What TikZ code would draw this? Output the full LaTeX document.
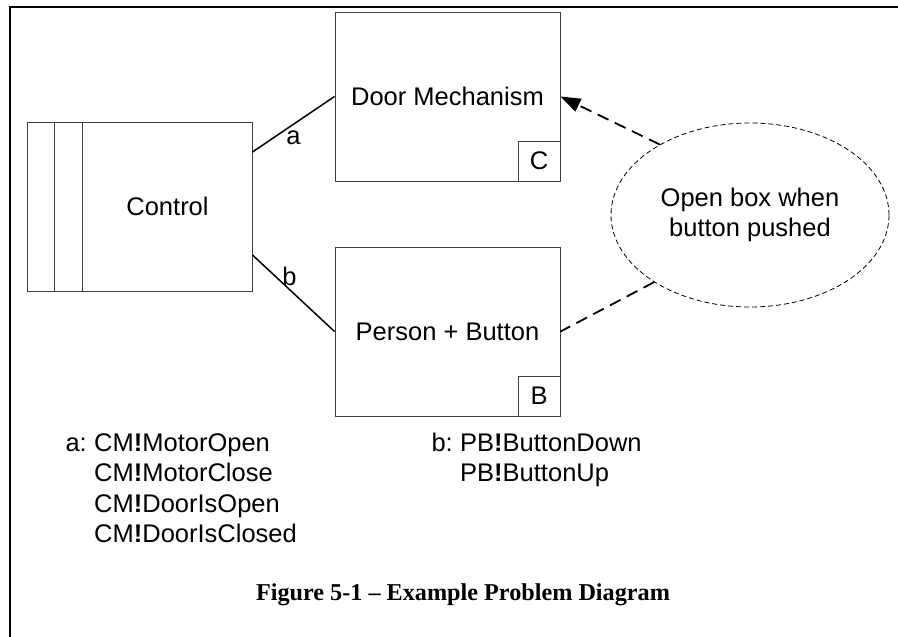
\documentclass[tikz,border=0pt]{standalone}
\usepackage{fontspec}
\setmainfont{Liberation Sans}
\newfontfamily\capfont{Liberation Serif}
\usetikzlibrary{shapes.geometric,arrows.meta}

\begin{document}
\begin{tikzpicture}[x=1pt, y=-1pt,
    font=\fontsize{25.5}{30.5}\selectfont,
    box/.style = {draw=black!75, line width=1pt, minimum width=225pt, minimum height=169pt, inner sep=0pt},
    tag/.style = {draw=black!75, line width=1pt, minimum width=42pt, minimum height=40pt, inner sep=0pt},
    link/.style = {line width=1.5pt},
    note/.style = {draw, ellipse, dash pattern=on 5pt off 3pt, line width=0.8pt, minimum width=278pt, minimum height=184pt, inner sep=0pt, align=center},
    cause/.style = {dash pattern=on 12pt off 7pt, line width=1.8pt},
    sig/.style = {anchor=base west, inner sep=0pt}]
    \useasboundingbox (0,0) rectangle (898,637);
    % frame
    \draw[line width=2.5pt] (898,7) -- (10,7) -- (10,637);
    % domains
    \node[box] (ctrl) at (139.5,206.5) {};
    \foreach \s in {28,56}
        \draw[draw=black!75, line width=1pt] ([xshift=\s pt]ctrl.north west) -- ([xshift=\s pt]ctrl.south west);
    \node (ctrltxt) at (167.5,206.5) {Control};
    \node[box] (door) at (447.5,96.5) {Door Mechanism};
    \node[tag, anchor=south east] (dtag) at (door.south east) {C};
    \node[box] (pb) at (447.5,331.5) {Person + Button};
    \node[tag, anchor=south east] (ptag) at (pb.south east) {B};
    \node[note] (req) at (750,215) {Open box when\\button pushed};
    % interfaces
    \draw[link] ([yshift=54.5pt]ctrl.east) -- node[below, yshift=-2pt] (la) {a} (door.west);
    \draw[link] ([yshift=-48.5pt]ctrl.east) -- node[above, pos=0.45] (lb) {b} (pb.west);
    \draw[cause, -{Triangle[length=20pt, width=14pt]}] (req.142) -- (door.east);
    \draw[cause] (req.215) -- (pb.east);
    % phenomena
    \foreach \t [count=\i] in {CM\textbf{!}MotorOpen, CM\textbf{!}MotorClose, CM\textbf{!}DoorIsOpen, CM\textbf{!}DoorIsClosed}
        \node[sig] (a\i) at (94,420.5+30.5*\i) {\t};
    \node[sig, anchor=base east, xshift=-7pt] (alab) at (a1.base west) {a:};
    \foreach \t [count=\i] in {PB\textbf{!}ButtonDown, PB\textbf{!}ButtonUp}
        \node[sig] (b\i) at (460,420.5+30.5*\i) {\t};
    \node[sig, anchor=base east, xshift=-7pt] (blab) at (b1.base west) {b:};
    % caption
    \node[anchor=base] (cap) at (463,600) {\capfont\bfseries\fontsize{24.2}{29}\selectfont Figure 5-1 – Example Problem Diagram};
\end{tikzpicture}
\end{document}
